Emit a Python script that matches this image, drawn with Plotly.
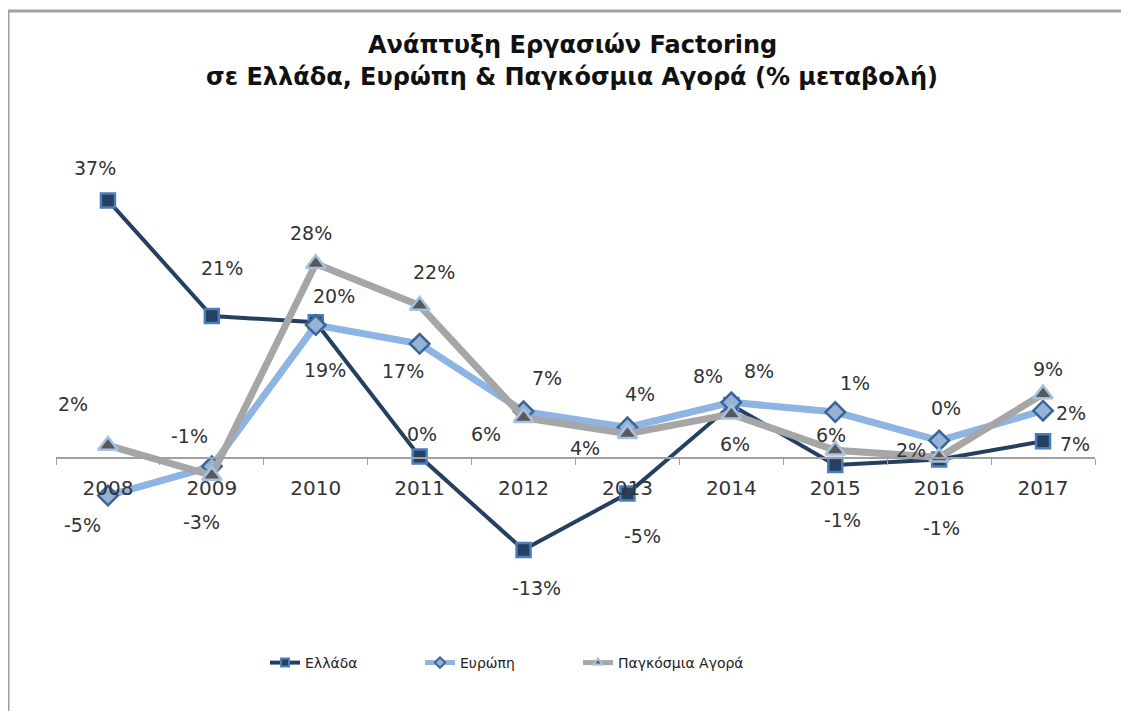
import plotly.graph_objects as go

# Δεδομένα (% μεταβολή)
years = ["2008", "2009", "2010", "2011", "2012", "2013", "2014", "2015", "2016", "2017"]
ellada = [37.0, 20.4, 19.5, 0.2, -13.2, -5.1, 7.6, -1.0, -0.2, 2.4]
evropi = [-5.4, -1.2, 19.1, 16.4, 6.7, 4.4, 8.0, 6.6, 2.5, 6.8]
pagkosmia = [1.8, -2.5, 27.9, 21.9, 5.8, 3.5, 6.3, 1.1, 0.1, 9.2]

# Ετικέτες όπως εμφανίζονται στο γράφημα
ellada_labels = ["37%", "21%", "20%", "0%", "-13%", "-5%", "8%", "-1%", "-1%", "7%"]
evropi_labels = ["-5%", "-1%", "19%", "17%", "7%", "4%", "8%", "1%", "0%", "2%"]
pagkosmia_labels = ["2%", "-3%", "28%", "22%", "6%", "4%", "6%", "6%", "2%", "9%"]

# μετατόπιση ετικετών σε pixel (dx, dy προς τα κάτω)
ellada_off = [(-13, -32), (10, -48), (18, -26), (2, -23), (13, 38),
              (15, 42), (-23, -29), (7, 55), (2, 69), (32, 3)]
evropi_off = [(-25, 29), (-22, -30), (9, 45), (-17, 27), (23, -33),
              (13, -33), (28, -31), (20, -29), (7, -33), (28, 2)]
pagkosmia_off = [(-35, -41), (-10, 47), (-5, -31), (14, -34), (-38, 16),
                 (-42, 14), (4, 30), (-4, -15), (-28, -7), (5, -25)]

FONT = "DejaVu Sans"

series = [
    dict(name="Ελλάδα", y=ellada, labels=ellada_labels, off=ellada_off,
         line=dict(color="#243F60", width=4),
         marker=dict(symbol="square", size=14, color="#254061",
                     line=dict(color="#4A7EBB", width=2.5))),
    dict(name="Ευρώπη", y=evropi, labels=evropi_labels, off=evropi_off,
         line=dict(color="#8EB4E3", width=7),
         marker=dict(symbol="diamond", size=15, color="#95B3D7",
                     line=dict(color="#3A6595", width=2.5))),
    dict(name="Παγκόσμια Αγορά", y=pagkosmia, labels=pagkosmia_labels, off=pagkosmia_off,
         line=dict(color="#A6A6A6", width=7),
         marker=dict(symbol="triangle-up", size=17, color="#595959",
                     line=dict(color="#A7C0DE", width=2.5))),
]

fig = go.Figure()

annotations = []
for s in series:
    fig.add_trace(go.Scatter(
        x=years, y=s["y"], mode="lines+markers", name=s["name"],
        line=s["line"], marker=s["marker"], showlegend=False,
    ))
    for i, (val, lab, (dx, dy)) in enumerate(zip(s["y"], s["labels"], s["off"])):
        annotations.append(dict(
            x=i, y=val, xref="x", yref="y", text=lab, showarrow=False,
            xshift=dx, yshift=-dy,
            font=dict(family=FONT, size=19, color="#333333"),
        ))

# υπόμνημα: ένα ξεχωριστό legend ανά σειρά για ακριβή τοποθέτηση
legend_ids = ["legend", "legend2", "legend3"]
legend_left = [257, 412, 570]
for s, lid in zip(series, legend_ids):
    m = dict(s["marker"])
    m["size"] = 8
    m["line"] = dict(color=s["marker"]["line"]["color"], width=2)
    fig.add_trace(go.Scatter(
        x=[None], y=[None], mode="lines+markers", name=s["name"],
        line=dict(color=s["line"]["color"], width=min(s["line"]["width"], 5)),
        marker=m, legend=lid,
    ))

legend_layout = {}
for lid, px in zip(legend_ids, legend_left):
    legend_layout[lid] = dict(
        orientation="h",
        x=(px - 48) / 1039, xanchor="left",
        y=(592 - 655) / 450, yanchor="middle",
        font=dict(family=FONT, size=14, color="#222222"),
        bgcolor="rgba(0,0,0,0)",
    )

# τίτλος σε δύο γραμμές
title_lines = ["Ανάπτυξη Εργασιών Factoring",
               "σε Ελλάδα, Ευρώπη & Παγκόσμια Αγορά (% μεταβολή)"]
for txt, py in zip(title_lines, [37, 69]):
    annotations.append(dict(
        x=(564 - 48) / 1039, y=(592 - py) / 450, xref="paper", yref="paper",
        text="<b>" + txt + "</b>", showarrow=False,
        xanchor="center", yanchor="middle",
        font=dict(family=FONT, size=24, color="#111111"),
    ))

fig.update_layout(
    width=1121,
    height=703,
    paper_bgcolor="white",
    plot_bgcolor="white",
    margin=dict(l=48, r=34, t=142, b=111),
    font=dict(family=FONT, color="#222222"),
    xaxis=dict(
        type="category",
        range=[-0.5, 9.5],
        anchor="free",
        position=(592 - 450) / 450,
        showline=True, linecolor="#A0A0A0", linewidth=1.5,
        ticks="outside", tickson="boundaries", ticklen=6, tickcolor="#A0A0A0",
        showgrid=False, zeroline=False,
        tickfont=dict(family=FONT, size=20, color="#333333"),
        ticklabelstandoff=12,
    ),
    yaxis=dict(
        range=[-20.4, 44.25],
        showticklabels=False, showline=False, ticks="",
        showgrid=False, zeroline=False,
    ),
    annotations=annotations,
    shapes=[dict(
        type="rect", xref="paper", yref="paper",
        x0=(0 - 48) / 1039, x1=1.2,
        y0=-0.5, y1=(592 - 3) / 450,
        line=dict(color="#A0A0A0", width=3),
        layer="below",
    )],
    **legend_layout,
)

fig.write_html("out.html")
